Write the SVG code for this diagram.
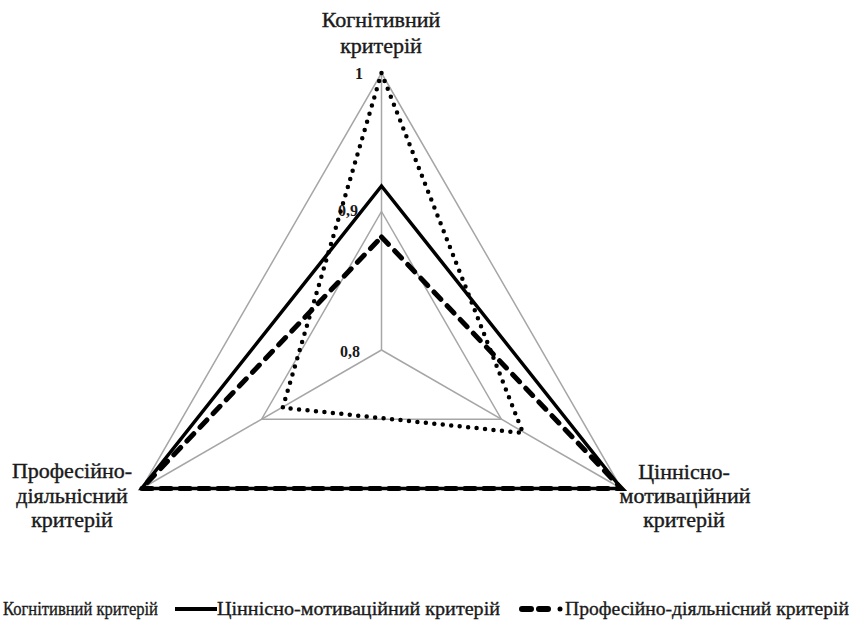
<svg xmlns="http://www.w3.org/2000/svg" width="856" height="623" viewBox="0 0 856 623" font-family="Liberation Serif, Times New Roman, serif">
  <style>
    .lbl { font-size: 22px; text-anchor: middle; fill: #1a1a1a; stroke: #1a1a1a; stroke-width: 0.4; }
    .val { font-size: 16px; font-weight: bold; fill: #1a1a1a; }
    .leg { font-size: 19.5px; fill: #1a1a1a; stroke: #1a1a1a; stroke-width: 0.35; }
    .grid { fill: none; stroke: #a6a6a6; stroke-width: 1.5; }
    .s-dot { fill: none; stroke: #000; stroke-width: 4.5; stroke-linecap: round; stroke-dasharray: 0 8.5; }
    .s-solid { fill: none; stroke: #000; stroke-width: 3.5; stroke-linejoin: miter; }
    .s-dash { fill: none; stroke: #000; stroke-width: 5; stroke-linecap: round; stroke-dasharray: 10 9; }
  </style>
  <rect width="856" height="623" fill="#ffffff"/>

  <g id="grid">
    <polygon class="grid" points="381.5,73 621.4,488.5 141.6,488.5"/>
    <polygon class="grid" points="381.5,211.5 501.4,419.25 261.6,419.25"/>
    <line class="grid" x1="381.5" y1="350" x2="381.5" y2="73"/>
    <line class="grid" x1="381.5" y1="350" x2="621.4" y2="488.5"/>
    <line class="grid" x1="381.5" y1="350" x2="141.6" y2="488.5"/>
  </g>

  <g id="scale-labels" font-family="Liberation Serif, serif">
    <text class="val" x="355" y="79">1</text>
    <text class="val" x="338" y="216">0,9</text>
    <text class="val" x="340" y="357">0,8</text>
  </g>

  <g id="series">
    <polygon id="series-kognityvnyi" class="s-dot" points="381.5,73 523,433 282.7,407.7"/>
    <polygon id="series-tsinnisno" class="s-solid" points="381.5,186 621.4,488.5 141.6,488.5"/>
    <polygon id="series-profesiino" class="s-dash" points="381.5,237 621.4,488.5 141.6,488.5"/>
  </g>

  <g id="axis-kognityvnyi" font-family="Liberation Serif, serif">
    <text class="lbl" x="381" y="27">Когнітивний</text>
    <text class="lbl" x="381" y="53">критерій</text>
  </g>
  <g id="axis-profesiino" font-family="Liberation Serif, serif">
    <text class="lbl" x="72" y="478">Професійно-</text>
    <text class="lbl" x="72" y="503">діяльнісний</text>
    <text class="lbl" x="72" y="527">критерій</text>
  </g>
  <g id="axis-tsinnisno" font-family="Liberation Serif, serif">
    <text class="lbl" x="684" y="479">Ціннісно-</text>
    <text class="lbl" x="685" y="503">мотиваційний</text>
    <text class="lbl" x="684" y="527">критерій</text>
  </g>

  <g id="legend" font-family="Liberation Serif, serif">
    <text class="leg" x="3" y="615" textLength="155" lengthAdjust="spacingAndGlyphs">Когнітивний критерій</text>
    <line x1="175" y1="609" x2="217" y2="609" stroke="#000" stroke-width="4"/>
    <text class="leg" x="217" y="615" textLength="283" lengthAdjust="spacingAndGlyphs">Ціннісно-мотиваційний  критерій</text>
    <line x1="522" y1="609" x2="553" y2="609" stroke="#000" stroke-width="6" stroke-linecap="round" stroke-dasharray="9 8"/>
    <circle cx="560" cy="609" r="2.5" fill="#000"/>
    <text class="leg" x="565" y="615" textLength="284" lengthAdjust="spacingAndGlyphs">Професійно-діяльнісний критерій</text>
  </g>
</svg>
